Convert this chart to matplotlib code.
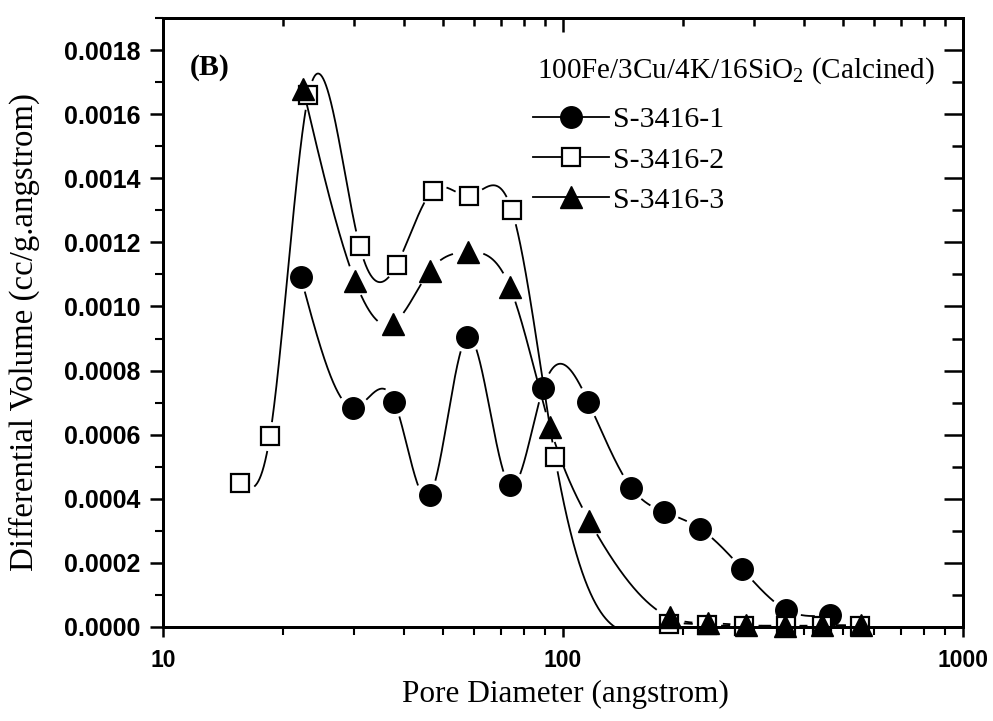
import numpy as np
import matplotlib
matplotlib.use('Agg')
import matplotlib.pyplot as plt
from matplotlib.ticker import MultipleLocator, LogLocator, NullFormatter, FixedLocator, FixedFormatter
from matplotlib.lines import Line2D

plt.rcParams['mathtext.fontset'] = 'custom'
plt.rcParams['mathtext.rm'] = 'Liberation Serif'
plt.rcParams['mathtext.default'] = 'regular'

# ---- data (pore diameter in angstrom, differential volume cc/g.angstrom) ----
x1 = [22.1, 29.9, 37.9, 46.5, 57.5, 73.7, 89.3, 115.7, 148, 179, 220, 281, 362, 465]
y1 = [0.001093, 0.000684, 0.000702, 0.000411, 0.000904, 0.000442, 0.000747,
      0.000702, 0.000435, 0.000359, 0.000307, 0.000180, 0.000053, 0.000037]
x2 = [15.6, 18.5, 23.1, 31.0, 38.4, 47.2, 58.3, 74.5, 95.5, 184.6, 229, 284, 360, 443, 553]
y2 = [0.00045, 0.000595, 0.00166, 0.00119, 0.00113, 0.001361, 0.001346, 0.00130,
      0.00053, 0.000008, 0.000006, 0.000004, 0.000004, 0.000004, 0.000004]
x3 = [22.4, 30.2, 37.5, 46.4, 57.9, 73.7, 92.8, 116.4, 185, 230, 286, 358, 443, 556]
y3 = [0.00168, 0.00108, 0.000946, 0.00111, 0.00117, 0.00106, 0.000624,
      0.000331, 0.00003, 0.000012, 0.000006, 0.000002, 0.000005, 0.000005]

series_labels = ['S-3416-1', 'S-3416-2', 'S-3416-3']
legend_title = '100Fe/3Cu/4K/16SiO$_2$ (Calcined)'
panel_label = '(B)'
xlabel = 'Pore Diameter (angstrom)'
ylabel = 'Differential Volume (cc/g.angstrom)'
yticks = [0.0000, 0.0002, 0.0004, 0.0006, 0.0008, 0.0010, 0.0012, 0.0014, 0.0016, 0.0018]
xticks = [10, 100, 1000]


def natural_spline(x, y, xs):
    x = np.asarray(x, float); y = np.asarray(y, float)
    n = len(x)
    h = np.diff(x)
    A = np.zeros((n, n)); b = np.zeros(n)
    A[0, 0] = 1; A[-1, -1] = 1
    for i in range(1, n - 1):
        A[i, i - 1] = h[i - 1]
        A[i, i] = 2 * (h[i - 1] + h[i])
        A[i, i + 1] = h[i]
        b[i] = 3 * ((y[i + 1] - y[i]) / h[i] - (y[i] - y[i - 1]) / h[i - 1])
    c = np.linalg.solve(A, b)
    out = np.empty_like(xs)
    for k, xv in enumerate(xs):
        i = min(max(np.searchsorted(x, xv) - 1, 0), n - 2)
        bi = (y[i + 1] - y[i]) / h[i] - h[i] * (2 * c[i] + c[i + 1]) / 3
        di = (c[i + 1] - c[i]) / (3 * h[i])
        t = xv - x[i]
        out[k] = y[i] + bi * t + c[i] * t ** 2 + di * t ** 3
    return out


fig = plt.figure(figsize=(9.93, 7.21), dpi=100)
ax = fig.add_axes([163 / 993, 1 - 627 / 721, 800 / 993, 609 / 721])
ax.set_xscale('log')
ax.set_xlim(10, 1000)
ax.set_ylim(0, 0.0019)

styles = [
    dict(marker='o', ms=15.5, mfc='black', mec='black'),
    dict(marker='s', ms=13.5, mfc='white', mec='black', mew=1.6),
    dict(marker='^', ms=16.5, mfc='black', mec='black'),
]
gaps = [16, 15, 16]

for (xs_, ys_), st, gap in zip([(x1, y1), (x2, y2), (x3, y3)], styles, gaps):
    lx = np.log10(xs_)
    t = np.linspace(lx[0], lx[-1], 3000)
    yy = natural_spline(lx, ys_, t)
    xx = 10 ** t
    disp = ax.transData.transform(np.column_stack([xx, yy]))
    mk = ax.transData.transform(np.column_stack([xs_, ys_]))
    mask = np.zeros(len(t), bool)
    for p in mk:
        mask |= np.hypot(disp[:, 0] - p[0], disp[:, 1] - p[1]) < gap
    yplot = yy.copy()
    yplot[mask] = np.nan
    ax.plot(xx, yplot, color='black', lw=1.3, zorder=2)
    ax.plot(xs_, ys_, linestyle='none', zorder=3, clip_on=False, **st)

# axes styling
for s in ax.spines.values():
    s.set_linewidth(2)
ax.xaxis.set_major_locator(FixedLocator(xticks))
ax.xaxis.set_major_formatter(FixedFormatter([str(v) for v in xticks]))
ax.xaxis.set_minor_locator(LogLocator(base=10, subs=np.arange(2, 10)))
ax.xaxis.set_minor_formatter(NullFormatter())
ax.yaxis.set_major_locator(FixedLocator(yticks))
ax.yaxis.set_major_formatter(FixedFormatter(['%.4f' % v for v in yticks]))
ax.yaxis.set_minor_locator(MultipleLocator(0.0001))
ax.tick_params(axis='y', which='major', direction='out', length=9.5, width=1.8, pad=7)
ax.tick_params(axis='y', which='minor', direction='out', length=6, width=1.5)
ax.tick_params(axis='x', which='major', direction='out', length=7, width=1.8, pad=9)
ax.tick_params(axis='x', which='minor', direction='out', length=5.5, width=1.5)
for lab in ax.get_yticklabels():
    lab.set_fontfamily('Liberation Sans')
    lab.set_fontweight('bold')
    lab.set_fontsize(18)
for lab in ax.get_xticklabels():
    lab.set_fontfamily('Liberation Sans')
    lab.set_fontweight('bold')
    lab.set_fontsize(16.5)

# top / right inward ticks
axt = ax.twiny()
axt.set_xscale('log'); axt.set_xlim(10, 1000)
axt.xaxis.set_major_locator(FixedLocator(xticks))
axt.xaxis.set_minor_locator(LogLocator(base=10, subs=np.arange(2, 10)))
axt.tick_params(which='both', direction='in', labeltop=False, width=1.8)
axt.tick_params(which='major', length=10)
axt.tick_params(which='minor', length=6)
axr = ax.twinx()
axr.set_ylim(0, 0.0019)
axr.yaxis.set_major_locator(FixedLocator(yticks))
axr.yaxis.set_minor_locator(MultipleLocator(0.0001))
axr.tick_params(which='both', direction='in', labelright=False, width=1.8)
axr.tick_params(which='major', length=14)
axr.tick_params(which='minor', length=8)
for a in (axt, axr):
    for s in a.spines.values():
        s.set_linewidth(2)

fig.text(565 / 993, 1 - 694 / 721, xlabel, fontfamily='Liberation Serif', fontsize=22.5,
         ha='center', va='center')
fig.text(24 / 993, 1 - 332 / 721, ylabel, fontfamily='Liberation Serif', fontsize=23.7,
         ha='center', va='center', rotation=90)

ax.text(0.034, 0.918, panel_label, transform=ax.transAxes, fontfamily='Liberation Serif',
        fontweight='bold', fontsize=21.5, va='center', ha='left')
ax.text(0.4675, 0.913, legend_title, transform=ax.transAxes, fontfamily='Liberation Serif',
        fontsize=21, va='center', ha='left')

handles = [Line2D([], [], color='black', lw=1.3, **st) for st in styles]
leg = ax.legend(handles, series_labels, loc='upper left', bbox_to_anchor=(0.4625, 0.855),
                frameon=False, prop={'family': 'Liberation Serif', 'size': 21.5},
                handlelength=2.55, handletextpad=0.12, labelspacing=0.45,
                borderpad=0, borderaxespad=0, numpoints=1)
leg.set_zorder(5)

fig.savefig('out.png', dpi=100)
